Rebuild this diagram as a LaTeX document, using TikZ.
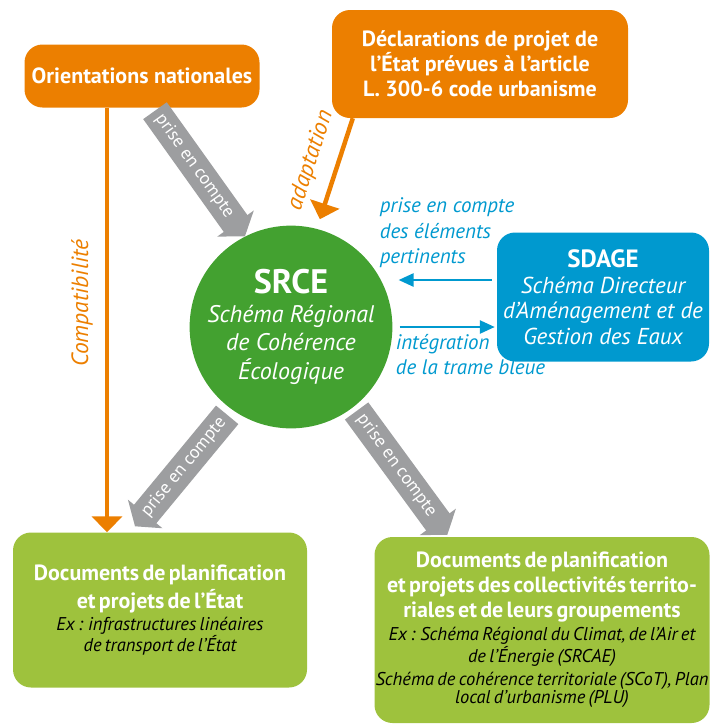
\documentclass[tikz,border=0pt]{standalone}
\usepackage{fontspec}
\setmainfont{PT Sans}
\usetikzlibrary{arrows.meta}

\definecolor{orangeD}{RGB}{236,127,0}
\definecolor{vertS}{RGB}{67,161,48}
\definecolor{vertD}{RGB}{158,194,61}
\definecolor{bleuS}{RGB}{0,153,207}
\definecolor{grisP}{RGB}{157,158,160}

\def\titre{\normalfont\fontsize{22}{25}\selectfont\bfseries\color{white}}
\def\exemple{\normalfont\fontsize{18.5}{22.5}\selectfont\itshape\color{black}}

\tikzset{
  boite/.style={rounded corners=18pt, align=center, inner sep=0pt},
  orangef/.style={orangeD, line width=4.5pt, -{Triangle[width=30pt,length=16pt]}},
  grisef/.style={grisP, line width=29pt, -{Triangle[width=44pt,length=16pt]}},
  bleuef/.style={bleuS, line width=2.5pt, -{Triangle[width=13pt,length=15pt]}},
  txtgris/.style={text=white, inner sep=0pt, font=\fontsize{18}{20}\selectfont},
  txtbleu/.style={text=bleuS, align=left, inner sep=0pt, font=\fontsize{21}{25.5}\selectfont\itshape},
  txtorange/.style={text=orangeD, font=\fontsize{23.5}{25}\selectfont\itshape}
}

\begin{document}
\begin{tikzpicture}[x=1pt,y=-1pt]
    \useasboundingbox (0,0) rectangle (710,724);

    % boites
    \node[boite, fill=orangeD, text=white, minimum width=235pt, minimum height=63pt,
      font=\fontsize{22}{25}\selectfont\bfseries] (orient) at (142,76) {Orientations nationales};
    \node[boite, fill=orangeD, text=white, minimum width=296pt, minimum height=108pt,
      font=\fontsize{22}{25}\selectfont\bfseries] (decl) at (480,64)
      {Déclarations de projet de\\ l’État prévues à l’article\\ L. 300-6 code urbanisme};
    \node[circle, fill=vertS, minimum size=190pt, inner sep=0pt, text=white, align=center,
      font=\fontsize{24}{28.5}\selectfont\itshape] (srce) at (291,327)
      {{\normalfont\fontsize{34}{36}\selectfont\bfseries SRCE}\\ Schéma Régional\\ de Cohérence\\ Écologique};
    \node[boite, fill=bleuS, text=white, minimum width=212pt, minimum height=129pt,
      font=\fontsize{23}{25.5}\selectfont\itshape] (sdage) at (603,297)
      {{\normalfont\fontsize{25}{26}\selectfont\bfseries SDAGE}\\ Schéma Directeur\\ d’Aménagement et de\\ Gestion des Eaux};
    \node[boite, fill=vertD, minimum height=155pt, text width=294pt] (docetat) at (160,610)
      {\titre Documents de planification\\[3pt] et projets de l’État\par
       \exemple Ex : infrastructures linéaires\\ de transport de l’État};
    \node[boite, fill=vertD, minimum height=186pt, text width=335pt] (doccoll) at (542,630)
      {\titre Documents de planification\\ et projets des collectivités territo-\\ riales et de leurs groupements\par
       \exemple Ex : Schéma Régional du Climat, de l’Air et\\ de l’Énergie (SRCAE)\\
       Schéma de cohérence territoriale (SCoT), Plan\\ local d’urbanisme (PLU)};

    % fleches orange
    \coordinate (compat) at ([xshift=-35pt]orient.south);
    \draw[orangef] (compat) -- (compat |- docetat.north)
      node[pos=0.46, rotate=90, anchor=south, inner sep=12pt, txtorange] {Compatibilité};
    \draw[orangef] ([xshift=21pt]decl.south west) -- ([shift={(75:10pt)}]srce.75)
      node[midway, sloped, above=14pt, inner sep=0pt, txtorange] {adaptation};

    % fleches grises
    \draw[grisef] ([xshift=13pt,yshift=-3pt]orient.south) -- (srce.117)
      node[pos=0.44, sloped, txtgris] {prise en compte};
    \draw[grisef] ([shift={(-126:7pt)}]srce.-126) -- ([xshift=-25pt,yshift=6pt]docetat.north)
      node[pos=0.47, sloped, txtgris] {prise en compte};
    \draw[grisef] ([shift={(-52:5pt)}]srce.-52) -- ([xshift=73pt,yshift=2pt]doccoll.north west)
      node[pos=0.44, sloped, txtgris] {prise en compte};

    % fleches bleues
    \coordinate (b1) at ([xshift=-5pt,yshift=17pt]sdage.west);
    \coordinate (b2) at ([xshift=7pt]srce.east);
    \draw[bleuef, shorten >=6pt] (b1) -- (b1 -| srce.east)
      node[pos=1, anchor=south west, xshift=-14pt, yshift=11pt, txtbleu]
      {prise en compte\\ des éléments\\ pertinents};
    \draw[bleuef, shorten >=2pt] (b2) -- (b2 -| sdage.west)
      node[pos=0, anchor=north west, xshift=-5pt, yshift=-6pt, txtbleu] {intégration\\ de la trame bleue};

\end{tikzpicture}
\end{document}
